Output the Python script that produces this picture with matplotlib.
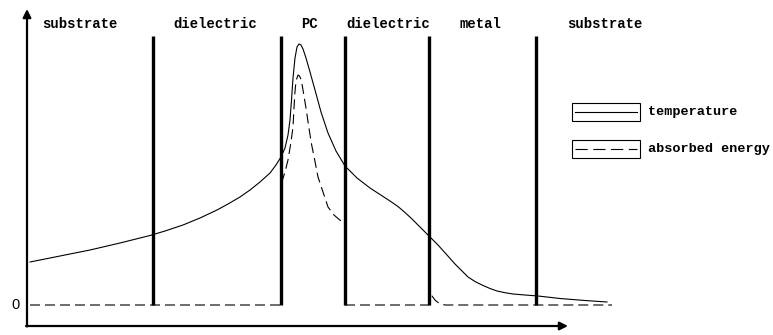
import numpy as np
import matplotlib
matplotlib.use("Agg")
import matplotlib.pyplot as plt
import matplotlib.patches as patches

# layer names and their label positions (x along depth)
layers = ['substrate', 'dielectric', 'PC', 'dielectric', 'metal', 'substrate']
label_x = [80, 215, 310, 388, 480, 605]
boundaries = [153, 281, 345, 429, 536]

# temperature profile
temp_x = [30, 60, 90, 120, 150, 165, 183, 200, 217, 228, 240, 250, 260, 270, 276, 281,
          285, 288, 290, 291.5, 293, 295, 297, 299, 301, 303, 306, 310, 315, 321,
          328, 336, 345, 357, 370, 380, 390, 398, 405, 412, 420, 428, 438, 447, 455, 462,
          468, 475, 482, 490, 497, 505, 513, 525, 538, 560, 585, 607]
temp_y = [43, 49, 55, 62, 69.5, 74, 80, 87, 95, 101, 108, 115, 123, 132, 140, 148,
          157, 170, 185, 205, 227, 247, 258, 261, 260, 256, 247, 233, 215, 193,
          172, 154, 139, 127, 117, 110.5, 104, 98.5, 92.5, 86, 78, 70, 60, 50, 41, 34,
          28, 23.5, 20, 16.5, 14, 12.3, 11, 10, 9, 6.5, 4.5, 3]

# absorbed energy (zero outside PC and metal)
abs_x = [30, 281, np.nan, 281.5, 285, 288, 291, 293, 294.7, 296, 298, 299.5,
         301.3, 303.5, 306.3, 308.5, 311.3, 314.5, 318, 322, 328, 334, 339.7, 342,
         np.nan, 345, 429, 430, 432, 435, 438, 441, 445, 612]
abs_y = [0, 0, np.nan, 122, 133, 145, 163, 178, 210, 224, 230, 229,
         225, 212, 195, 180, 162, 146, 128, 116, 98, 90, 85, 84,
         np.nan, 0, 0, 15, 9, 5, 2.5, 1, 0, 0]

fig = plt.figure(figsize=(7.73, 3.35), dpi=100)
ax = fig.add_axes([0, 0, 1, 1])
ax.set_xlim(0, 773)
ax.set_ylim(-30, 305)
ax.axis('off')

# axes arrows
ax.annotate('', xy=(27, 296), xytext=(27, -21.5),
            arrowprops=dict(arrowstyle='-|>', lw=1.6, color='black',
                            mutation_scale=12, shrinkA=0, shrinkB=0))
ax.annotate('', xy=(568, -21), xytext=(26, -21),
            arrowprops=dict(arrowstyle='-|>', lw=1.6, color='black',
                            mutation_scale=12, shrinkA=0, shrinkB=0))
ax.text(15, 0, '0', ha='center', va='center', fontsize=10.5, family='Liberation Sans')

# layer boundaries
for b in boundaries:
    ax.plot([b, b], [0, 269], color='black', lw=2.4, solid_capstyle='butt')

for name, lx in zip(layers, label_x):
    ax.text(lx, 281, name, ha='center', va='center',
            family='Liberation Mono', weight='bold', fontsize=10)

ax.plot(temp_x, temp_y, color='black', lw=0.8)
ax.plot(abs_x, abs_y, color='black', lw=0.8, dashes=(9, 4.5))

# hand-made legend with boxed samples
for i, (lab, ls) in enumerate([('temperature', '-'), ('absorbed energy', '--')]):
    yc = 193 - i * 37
    ax.add_patch(patches.Rectangle((572, yc - 9), 68, 18, fill=False,
                                   edgecolor='black', lw=0.8))
    if ls == '-':
        ax.plot([575, 637], [yc, yc], color='black', lw=0.8)
    else:
        ax.plot([575, 637], [yc, yc], color='black', lw=0.8, dashes=(11, 5))
    ax.text(648, yc, lab, ha='left', va='center',
            family='Liberation Mono', weight='bold', fontsize=9.7)

fig.savefig('out.png', dpi=100)
